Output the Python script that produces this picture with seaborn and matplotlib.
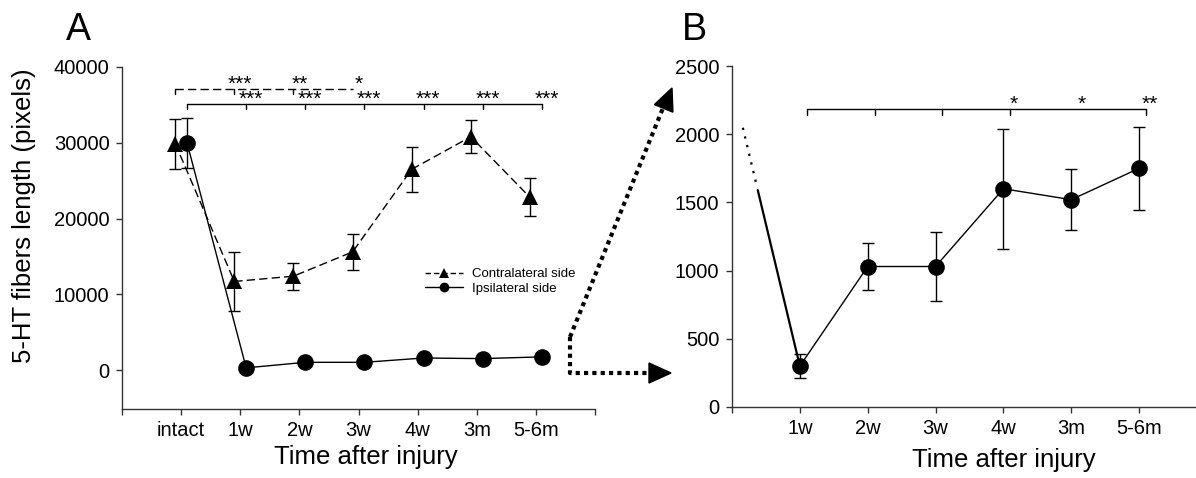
import numpy as np
import pandas as pd
import matplotlib
matplotlib.use('Agg')
import matplotlib.pyplot as plt
from matplotlib.lines import Line2D
from matplotlib.patches import Polygon
import seaborn as sns

# data
times_a = ['intact', '1w', '2w', '3w', '4w', '3m', '5-6m']
times_b = ['1w', '2w', '3w', '4w', '3m', '5-6m']

contra_mean = [29900, 11700, 12400, 15600, 26500, 30800, 22800]
contra_err = [3300, 3900, 1800, 2400, 3000, 2200, 2500]
ipsi_mean = [30000, 300, 1030, 1030, 1600, 1520, 1750]
ipsi_err = [3300, 85, 170, 255, 440, 225, 305]

# significance vs intact
sig_contra = ['***', '**', '*']            # 1w, 2w, 3w
sig_ipsi = ['***', '***', '***', '***', '***', '***']
sig_b = ['', '', '', '*', '*', '**']       # vs 1w
bracket_b_ticks = [True, True, True, True, False, True]

sns.set_style('ticks')
plt.rcParams['font.family'] = ['Liberation Sans', 'DejaVu Sans']
plt.rcParams['text.color'] = 'black'
plt.rcParams['axes.labelcolor'] = 'black'
plt.rcParams['axes.edgecolor'] = '#333333'
plt.rcParams['xtick.color'] = '#333333'
plt.rcParams['ytick.color'] = '#333333'
plt.rcParams['xtick.labelcolor'] = 'black'
plt.rcParams['ytick.labelcolor'] = 'black'

W, H = 1196, 478
fig = plt.figure(figsize=(W / 100, H / 100), dpi=100)


def px(x, y):
    return x / W, 1 - y / H


axA = fig.add_axes([122 / W, 1 - 409 / H, 473 / W, 342 / H])
axB = fig.add_axes([732 / W, 1 - 407 / H, 475 / W, 341 / H])

dodge = 0.1
pos_a = np.arange(1, len(times_a) + 1)
pos_b = np.arange(1, len(times_b) + 1)

df_a = pd.concat([
    pd.DataFrame({'x': pos_a - dodge, 'y': contra_mean, 'side': 'Contralateral side'}),
    pd.DataFrame({'x': pos_a + dodge, 'y': ipsi_mean, 'side': 'Ipsilateral side'}),
])

# ---- panel A
axA.errorbar(pos_a - dodge, contra_mean, yerr=contra_err, fmt='none', ecolor='black',
             elinewidth=1, capsize=4.5, capthick=1)
axA.errorbar(pos_a + dodge, ipsi_mean, yerr=ipsi_err, fmt='none', ecolor='black',
             elinewidth=1, capsize=4.5, capthick=1)
sns.lineplot(data=df_a, x='x', y='y', style='side', sort=False, ax=axA, legend=False,
             markers={'Contralateral side': '^', 'Ipsilateral side': 'o'},
             dashes={'Contralateral side': (6, 3), 'Ipsilateral side': ''},
             color='black', lw=1, markersize=12, markeredgewidth=0)

axA.set_xlim(0, 8)
axA.set_ylim(-5130, 40000)
axA.set_xticks(np.arange(0, 9))
axA.set_xticklabels([''] + times_a + [''])
axA.set_yticks(np.arange(0, 40001, 10000))
axA.set_xlabel('Time after injury', fontsize=18.5)
axA.set_ylabel('5-HT fibers length (pixels)', fontsize=18.5)
axA.xaxis.set_label_coords(0.516, -0.105)
axA.yaxis.set_label_coords(-0.182, 0.564)

# significance brackets, panel A
dash_y, solid_y = 37100, 35100
tick_h = 700
star_size = 15
star_off = (0, -0.8)
xs_d = pos_a[:len(sig_contra) + 1] - dodge
axA.plot(xs_d, [dash_y] * len(xs_d), color='black', lw=1, ls=(0, (6, 3)))
for x in xs_d[:-1]:
    axA.plot([x, x], [dash_y, dash_y - tick_h], color='black', lw=1)
for x, s in zip(xs_d[1:], sig_contra):
    axA.annotate(s, xy=(x + 0.1, dash_y), xytext=star_off, textcoords='offset points',
                 ha='center', va='baseline', fontsize=star_size)

xs_s = pos_a + dodge
axA.plot(xs_s, [solid_y] * len(xs_s), color='black', lw=1)
for x in xs_s:
    axA.plot([x, x], [solid_y, solid_y - tick_h], color='black', lw=1)
for x, s in zip(xs_s[1:], sig_ipsi):
    axA.annotate(s, xy=(x + 0.08, solid_y), xytext=star_off, textcoords='offset points',
                 ha='center', va='baseline', fontsize=star_size)

handles = [
    Line2D([], [], color='black', lw=1, ls=(0, (4, 2)), marker='^', ms=7, mew=0),
    Line2D([], [], color='black', lw=1, marker='o', ms=7, mew=0),
]
axA.legend(handles, ['Contralateral side', 'Ipsilateral side'], loc='upper left',
           bbox_to_anchor=(0.64, 0.412), borderaxespad=0, borderpad=0, frameon=False,
           fontsize=9.5, handlelength=2.9, handletextpad=0.7, labelspacing=0.15)

# ---- panel B
ipsi_b = ipsi_mean[1:]
ipsi_b_err = ipsi_err[1:]
axB.errorbar(pos_b, ipsi_b, yerr=ipsi_b_err, fmt='none', ecolor='black',
             elinewidth=1, capsize=4.5, capthick=1)
sns.lineplot(x=pos_b, y=ipsi_b, sort=False, ax=axB, color='black', lw=1,
             marker='o', markersize=12, markeredgewidth=0)

# broken line coming down from the intact value
break_slope = -2080
stub_solid = np.array([0.38, 1.0])
stub_dot = np.array([0.16, 0.37])
axB.plot(stub_solid, ipsi_b[0] + break_slope * (stub_solid - 1), color='black', lw=1.6)
axB.plot(stub_dot, ipsi_b[0] + break_slope * (stub_dot - 1), color='black', lw=1.6,
         ls=(0, (1, 3)))

axB.set_xlim(0, 7)
axB.set_ylim(0, 2500)
axB.set_xticks(np.arange(0, 8))
axB.set_xticklabels([''] + times_b + [''])
axB.set_yticks(np.arange(0, 2501, 500))
axB.set_xlabel('Time after injury', fontsize=18.5)
axB.xaxis.set_label_coords(0.573, -0.12)

b_y, b_tick = 2185, 45
xs_b = pos_b + dodge
axB.plot(xs_b, [b_y] * len(xs_b), color='black', lw=1)
for x, s, t in zip(xs_b, sig_b, bracket_b_ticks):
    if t:
        axB.plot([x, x], [b_y, b_y - b_tick], color='black', lw=1)
    if s:
        axB.annotate(s, xy=(x + 0.05, b_y), xytext=star_off, textcoords='offset points',
                     ha='center', va='baseline', fontsize=star_size)

for ax in (axA, axB):
    sns.despine(ax=ax)
    ax.tick_params(labelsize=14.5, length=4, width=1, pad=5, direction='out')
    for sp in ax.spines.values():
        sp.set_linewidth(1)

# panel letters
fig.text(*px(66, 40), 'A', fontsize=27, ha='left', va='baseline')
fig.text(*px(682, 40), 'B', fontsize=27, ha='left', va='baseline')

# dotted zoom arrows from A to B
def arrow_head(tip, tail, length=22, width=20):
    tip = np.array(tip, float)
    d = tip - np.array(tail, float)
    d /= np.linalg.norm(d)
    n = np.array([-d[1], d[0]])
    base = tip - d * length
    pts = [tip, base + n * width / 2, base - n * width / 2]
    fig.add_artist(Polygon([px(*p) for p in pts], closed=True, color='black',
                           transform=fig.transFigure))


corner = (570, 373)
elbow = (570, 337)
tip_up = (672, 88)
tip_right = (671, 373)
for path in ([elbow, corner, (650, 373)], [elbow, (663, 108)]):
    xx, yy = zip(*[px(*p) for p in path])
    fig.add_artist(Line2D(xx, yy, transform=fig.transFigure, color='black', lw=3,
                          ls=(0, (1, 1)), solid_capstyle='butt', dash_capstyle='butt'))
arrow_head(tip_up, elbow)
arrow_head(tip_right, corner)

fig.savefig('out.png', dpi=100)
